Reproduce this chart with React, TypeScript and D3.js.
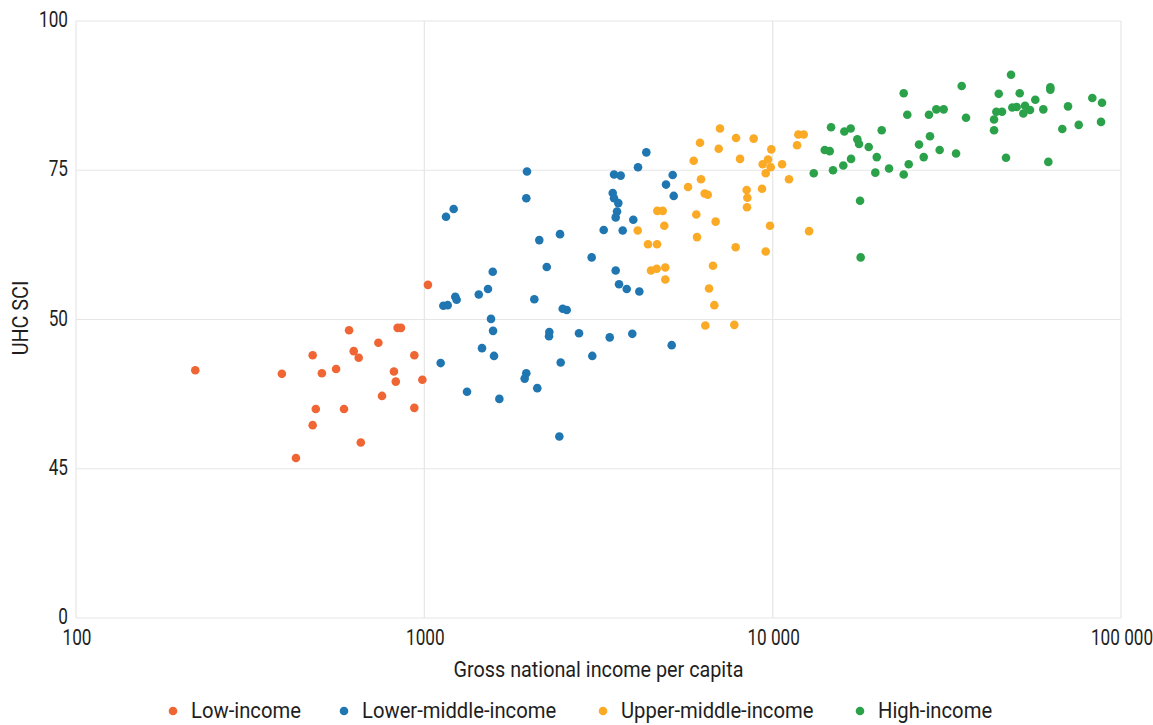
import React from "react";
import * as d3 from "d3";

// ---------- data ----------
const categories = ["Low-income", "Lower-middle-income", "Upper-middle-income", "High-income"];
const colors = ["#ef6534", "#1f76b1", "#fbaa26", "#2ba24a"];
const xTickValues = [100, 1000, 10000, 100000];
const xTickLabels = ["100", "1000", "10 000", "100 000"];
const yTickValues = [0, 25, 50, 75, 100];
const yTickLabels = ["0", "45", "50", "75", "100"];
const xTitle = "Gross national income per capita";
const yTitle = "UHC SCI";

// [GNI per capita, UHC SCI]
const lowIncome: [number, number][] = [
  [220, 41.5], [390, 40.9], [478, 44.0], [508, 41.0], [558, 41.7], [608, 48.2],
  [627, 44.7], [648, 43.6], [488, 35.0], [478, 32.3], [588, 35.0], [738, 46.1],
  [756, 37.2], [818, 41.3], [828, 39.6], [838, 48.6], [857, 48.6], [936, 44.0],
  [936, 35.2], [987, 39.9], [657, 29.4], [428, 26.8], [1024, 55.8],
];

const lowerMiddleIncome: [number, number][] = [
  [1154, 67.2], [1214, 68.5], [1971, 74.8], [1962, 70.3], [2138, 63.3], [2452, 64.3],
  [2246, 58.8], [1572, 58.0], [1523, 55.1], [1433, 54.2], [1227, 53.8], [1238, 53.3],
  [1134, 52.3], [1167, 52.4], [2069, 53.4], [3023, 60.4], [3273, 65.0], [3504, 74.3],
  [3662, 74.1], [3474, 71.2], [3504, 70.3], [3605, 69.5], [3574, 68.1], [3543, 67.1],
  [3711, 64.9], [3980, 66.7], [4106, 75.5], [4338, 78.0], [4941, 72.6], [5164, 74.2],
  [5199, 70.7], [3543, 58.2], [3622, 55.9], [3811, 55.1], [4142, 54.7], [2496, 51.8],
  [2563, 51.6], [1554, 50.1], [1575, 48.1], [1464, 45.2], [1585, 43.9], [1114, 42.7],
  [1326, 37.9], [1642, 36.7], [1962, 41.0], [1941, 40.1], [2110, 38.5], [2285, 47.9],
  [2280, 47.2], [2463, 42.8], [2780, 47.7], [3035, 43.9], [3406, 47.0], [3954, 47.6],
  [5131, 45.7], [2441, 30.4],
];

const upperMiddleIncome: [number, number][] = [
  [7060, 82.0], [7850, 80.4], [8820, 80.3], [6185, 79.6], [7000, 78.6], [9910, 78.5],
  [11850, 81.0], [12280, 81.0], [11750, 79.2], [5933, 76.6], [8060, 76.9], [9697, 76.8],
  [9360, 76.0], [9870, 75.5], [10640, 76.0], [9550, 74.5], [11140, 73.5], [6227, 73.5],
  [5715, 72.2], [6380, 71.1], [6510, 70.9], [8420, 71.7], [8460, 70.4], [8440, 68.8],
  [9320, 71.9], [4665, 68.2], [4834, 68.2], [6036, 67.6], [6860, 66.4], [4885, 65.7],
  [4098, 64.9], [9826, 65.7], [12720, 64.8], [4386, 62.6], [4656, 62.6], [6064, 63.8],
  [7830, 62.1], [9550, 61.4], [6740, 59.0], [4474, 58.2], [4647, 58.5], [4918, 58.7],
  [4918, 56.7], [6567, 55.2], [6800, 52.4], [6407, 49.0], [7760, 49.1],
];

const highIncome: [number, number][] = [
  [13120, 74.5], [14710, 82.2], [14110, 78.4], [14580, 78.2], [14900, 75.0], [16060, 81.5],
  [16750, 82.0], [15950, 75.8], [16790, 76.9], [17500, 80.2], [17700, 79.4], [18870, 78.9],
  [19900, 77.2], [19710, 74.6], [20560, 81.7], [21580, 75.3], [17820, 69.9], [17890, 60.4],
  [23780, 87.9], [24350, 84.3], [23780, 74.3], [24580, 76.0], [26310, 79.3], [27140, 77.2],
  [28100, 84.3], [28290, 80.7], [29500, 85.2], [30970, 85.2], [30160, 78.4], [33610, 77.8],
  [34890, 89.1], [35900, 83.8], [43210, 81.7], [43210, 83.5], [43870, 84.8], [45550, 84.8],
  [44570, 87.8], [48340, 91.0], [46760, 77.1], [48750, 85.5], [50190, 85.6], [51200, 87.9],
  [53030, 85.8], [54810, 85.1], [52430, 84.5], [56750, 86.8], [59840, 85.2], [62680, 88.9],
  [62680, 88.5], [61850, 76.4], [70450, 85.7], [67840, 81.9], [75620, 82.6], [82730, 87.1],
  [88210, 86.3], [87630, 83.1],
];

const seriesData = [lowIncome, lowerMiddleIncome, upperMiddleIncome, highIncome];

// ---------- layout ----------
const W = 1153;
const H = 725;
const plot = { left: 76, right: 1121, top: 21, bottom: 618 };
const legendX = [173, 344, 603, 860];
const legendY = 711;
const FONT = "Roboto, 'Open Sans', sans-serif";
const TEXT = "#1e1e1e";
const GRID = "#e6e6e6";

function SText(props: {
  x: number; y: number; size: number; sx: number; anchor?: string; rotate?: number; children: React.ReactNode;
}) {
  const { x, y, size, sx, anchor = "start", rotate = 0, children } = props;
  return (
    <text
      transform={`translate(${x},${y}) rotate(${rotate}) scale(${sx},1)`}
      fontSize={size}
      textAnchor={anchor}
      fill={TEXT}
      fontFamily={FONT}
    >
      {children}
    </text>
  );
}

export default function App() {
  const x = d3.scaleLog().domain([100, 100000]).range([plot.left, plot.right]);
  const y = d3.scaleLinear().domain([0, 100]).range([plot.bottom, plot.top]);

  return (
    <svg width={W} height={H} style={{ position: "absolute", left: 0, top: 0, display: "block", background: "#fff" }}>
      {/* grid */}
      {yTickValues.map((v) => (
        <line key={"gy" + v} x1={plot.left} x2={plot.right} y1={y(v)} y2={y(v)} stroke={GRID} strokeWidth={1.2} />
      ))}
      {xTickValues.map((v) => (
        <line key={"gx" + v} x1={x(v)} x2={x(v)} y1={plot.top} y2={plot.bottom} stroke={GRID} strokeWidth={1.2} />
      ))}

      {/* y ticks */}
      {yTickValues.map((v, i) => (
        <SText key={"ty" + v} x={68} y={y(v) + 6} size={22} sx={0.78} anchor="end">
          {yTickLabels[i]}
        </SText>
      ))}
      {/* x ticks */}
      {xTickValues.map((v, i) => (
        <SText key={"tx" + v} x={x(v) + 1} y={645} size={22} sx={0.78} anchor="middle">
          {xTickLabels[i]}
        </SText>
      ))}

      {/* titles */}
      <SText x={(plot.left + plot.right) / 2} y={677} size={22} sx={0.9} anchor="middle">
        {xTitle}
      </SText>
      <SText x={28} y={318} size={22} sx={0.9} anchor="middle" rotate={-90}>
        {yTitle}
      </SText>

      {/* points */}
      {seriesData.map((pts, si) => (
        <g key={"s" + si} fill={colors[si]}>
          {pts.map((p, pi) => (
            <circle key={pi} cx={x(p[0])} cy={y(p[1])} r={4.3} />
          ))}
        </g>
      ))}

      {/* legend */}
      {categories.map((c, i) => (
        <g key={"l" + i}>
          <circle cx={legendX[i]} cy={legendY} r={4.3} fill={colors[i]} />
          <SText x={legendX[i] + 18} y={718} size={22} sx={0.92}>
            {c}
          </SText>
        </g>
      ))}
    </svg>
  );
}
